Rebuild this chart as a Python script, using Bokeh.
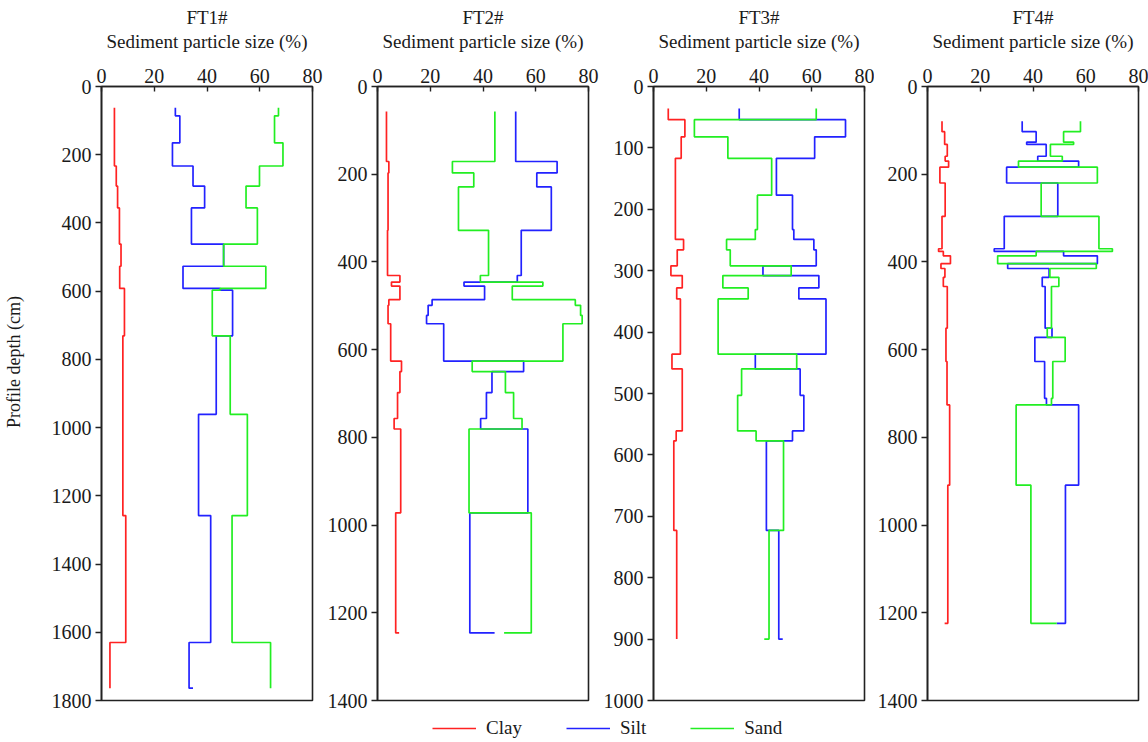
import numpy as np
from bokeh.plotting import figure
from bokeh.models import Range1d, FixedTicker, Legend, LegendItem
from bokeh.layouts import row, column
from bokeh.embed import file_html
from bokeh.resources import INLINE

series_names = ["Clay", "Silt", "Sand"]
series_colors = ["#ff2222", "#2222ff", "#22ee22"]

panel_titles = ["FT1#", "FT2#", "FT3#", "FT4#"]
x_ticks = [0, 20, 40, 60, 80]
depth_max = [1800, 1400, 1000, 1400]
depth_step = [200, 200, 100, 200]
y_label = "Profile depth (cm)"
x_label = "Sediment particle size (%)"

# FT1#
ft1_depth = [62, 86, 165, 233, 292, 356, 462, 527, 592, 597, 731, 961, 1258, 1630, 1764]
ft1_clay = [4.9, 4.9, 4.9, 5.6, 6.1, 6.8, 7.4, 6.9, 8.7, 8.7, 8.1, 8.1, 9.2, 3.2, 3.2]
ft1_silt = [28.0, 29.7, 26.9, 34.7, 39.1, 34.1, 46.3, 30.9, 45.0, 49.7, 43.5, 36.8, 41.4, 33.2, 34.7]
ft1_sand = [67.1, 65.6, 68.8, 59.9, 54.8, 59.1, 46.3, 62.3, 45.0, 42.0, 48.8, 55.3, 49.5, 64.1, 64.1]

# FT2#
ft2_depth = [57, 171, 197, 229, 328, 431, 446, 455, 486, 499, 522, 541, 626, 650, 698, 757, 781, 972, 1246]
ft2_clay = [3.4, 4.3, 4.0, 4.0, 3.8, 8.5, 5.3, 8.5, 4.3, 4.0, 4.0, 5.0, 9.1, 8.5, 7.6, 6.3, 8.8, 6.9, 8.2]
ft2_silt = [52.4, 68.1, 60.4, 65.9, 54.5, 53.0, 32.8, 40.6, 20.7, 19.2, 18.6, 25.1, 55.4, 43.4, 41.3, 39.1, 57.0, 35.0, 44.4]
ft2_sand = [44.5, 28.4, 36.5, 30.7, 42.1, 39.0, 62.7, 51.1, 75.0, 77.0, 77.6, 70.3, 35.9, 48.5, 51.6, 54.8, 34.7, 58.3, 48.0]

# FT3#
ft3_depth = [36, 54, 82, 117, 177, 233, 249, 266, 292, 308, 328, 346, 436, 460, 503, 561, 577, 723, 900]
ft3_clay = [5.6, 11.9, 10.5, 8.3, 8.3, 8.3, 11.4, 9.0, 6.6, 10.9, 8.8, 10.2, 7.0, 10.9, 10.9, 8.6, 7.7, 8.8, 8.8]
ft3_silt = [32.5, 72.8, 61.1, 46.6, 52.7, 53.2, 60.8, 61.7, 41.5, 62.7, 55.1, 65.4, 38.6, 55.6, 57.0, 52.7, 42.8, 47.5, 49.0]
ft3_sand = [61.7, 15.5, 28.2, 44.8, 39.4, 38.6, 27.7, 29.1, 52.2, 26.3, 35.9, 24.5, 54.3, 33.4, 31.9, 38.9, 49.3, 43.8, 42.0]

# FT4#
ft4_depth = [79, 103, 127, 132, 159, 170, 184, 220, 296, 370, 376, 386, 404, 415, 435, 456, 551, 572, 627, 711, 726, 909, 1224]
ft4_clay = [5.5, 6.5, 6.5, 7.5, 6.7, 8.0, 4.7, 6.7, 5.5, 4.2, 6.0, 8.7, 5.1, 6.6, 6.0, 7.5, 7.0, 7.0, 7.4, 7.4, 8.4, 7.7, 6.5]
ft4_silt = [35.9, 41.2, 37.6, 45.0, 41.8, 57.3, 30.0, 49.4, 29.1, 25.3, 51.6, 64.4, 30.4, 46.1, 43.5, 44.6, 47.2, 40.7, 44.4, 45.1, 57.3, 52.3, 49.0]
ft4_sand = [58.0, 51.6, 55.4, 46.6, 51.1, 34.5, 64.4, 43.1, 65.0, 70.1, 41.2, 26.6, 64.0, 46.4, 49.8, 47.0, 45.4, 52.2, 47.5, 47.0, 33.6, 39.2, 49.0]

panels_data = [
    (ft1_depth, [ft1_clay, ft1_silt, ft1_sand]),
    (ft2_depth, [ft2_clay, ft2_silt, ft2_sand]),
    (ft3_depth, [ft3_clay, ft3_silt, ft3_sand]),
    (ft4_depth, [ft4_clay, ft4_silt, ft4_sand]),
]

FONT = "Liberation Serif"
TXT = "#1a1a1a"
border_left = [101, 52, 52, 50]
border_right = [12, 12, 10, 15]


def step_path(depths, values):
    xs, ys = [], []
    for i in range(len(depths)):
        if i > 0:
            xs.append(values[i - 1])
            ys.append(depths[i])
        xs.append(values[i])
        ys.append(depths[i])
    return xs, ys


figs = []
for k in range(4):
    p = figure(frame_width=211, frame_height=614,
               x_range=Range1d(0, 80), y_range=Range1d(depth_max[k], 0),
               x_axis_location="above", toolbar_location=None, output_backend="svg",
               min_border_left=border_left[k], min_border_right=border_right[k],
               min_border_top=86, min_border_bottom=10,
               background_fill_color="white", border_fill_color="white")
    p.title.text = panel_titles[k]
    p.title.align = "center"
    p.title.text_font = FONT
    p.title.text_font_size = "19px"
    p.title.text_font_style = "normal"
    p.title.text_color = TXT
    p.title.standoff = 0

    p.grid.visible = False
    p.outline_line_color = "#222222"
    p.outline_line_width = 1.6
    p.outline_line_alpha = 1.0

    xa = p.xaxis[0]
    xa.ticker = FixedTicker(ticks=x_ticks)
    xa.axis_label = x_label
    xa.axis_label_text_font = FONT
    xa.axis_label_text_font_size = "19px"
    xa.axis_label_text_font_style = "normal"
    xa.axis_label_text_color = TXT
    xa.axis_label_standoff = 14
    xa.major_label_text_font = FONT
    xa.major_label_text_font_size = "20px"
    xa.major_label_text_color = TXT
    xa.major_label_standoff = 4
    xa.major_tick_in = 5
    xa.major_tick_out = 0
    xa.minor_tick_line_color = None
    xa.axis_line_color = "#222222"
    xa.axis_line_width = 1.6
    xa.major_tick_line_color = "#222222"
    xa.major_tick_line_width = 1.4

    ya = p.yaxis[0]
    ya.ticker = FixedTicker(ticks=list(range(0, depth_max[k] + 1, depth_step[k])))
    ya.major_label_text_font = FONT
    ya.major_label_text_font_size = "20px"
    ya.major_label_text_color = TXT
    ya.major_label_standoff = 4
    ya.major_tick_in = 0
    ya.major_tick_out = 6
    ya.minor_tick_line_color = None
    ya.axis_line_color = "#222222"
    ya.axis_line_width = 1.6
    ya.major_tick_line_color = "#222222"
    ya.major_tick_line_width = 1.4
    if k == 0:
        # leading no-break spaces lift the visible label above the frame's centre
        ya.axis_label = "\u00a0" * 14 + y_label
        ya.axis_label_text_font = FONT
        ya.axis_label_text_font_size = "18px"
        ya.axis_label_text_font_style = "normal"
        ya.axis_label_text_color = TXT
        ya.axis_label_standoff = 25

    depths, series = panels_data[k]
    for vals, col in zip(series, series_colors):
        xs, ys = step_path(depths, vals)
        p.line(xs, ys, line_color=col, line_width=1.7)
    figs.append(p)

# Legend strip
lp = figure(width=1148, height=31, min_border=0, x_axis_type=None, y_axis_type=None,
            toolbar_location=None, output_backend="svg", outline_line_color=None,
            background_fill_color="white", border_fill_color="white")
lp.grid.visible = False
items = []
for name, col in zip(series_names, series_colors):
    r = lp.line([np.nan], [np.nan], line_color=col, line_width=1.7)
    items.append(LegendItem(label=name, renderers=[r]))
legend = Legend(items=items, orientation="horizontal", location=(432, 2),
                glyph_width=44, glyph_height=20, label_standoff=10, spacing=44,
                padding=0, margin=0, border_line_color=None, background_fill_alpha=0,
                label_text_font=FONT, label_text_font_size="19px", label_text_color=TXT)
lp.add_layout(legend)

layout = column(row(*figs, spacing=0), lp, spacing=0)
open("out.html", "w").write(file_html(layout, INLINE))
